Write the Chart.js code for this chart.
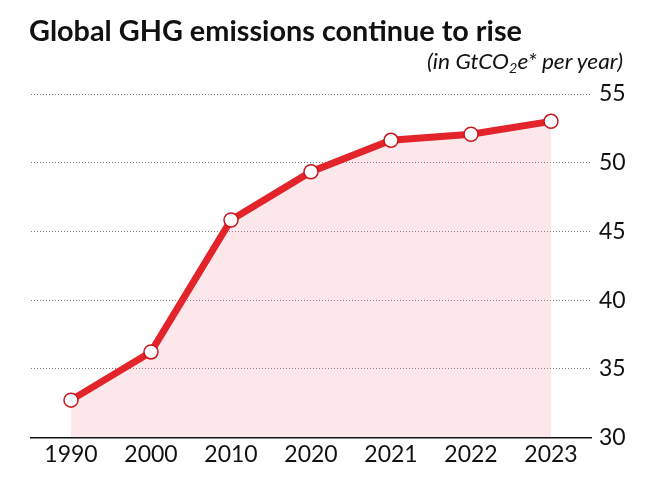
<!DOCTYPE html>
<html>
<head>
<meta charset="utf-8">
<script src="https://cdn.jsdelivr.net/npm/chart.js@4"></script>
<style>
  html, body { margin: 0; padding: 0; background: #fff; }
  #wrap { position: relative; width: 660px; height: 488px; overflow: hidden; }
  #chart { position: absolute; left: 0; top: 0; }
  .txt { position: absolute; white-space: nowrap; color: #111; transform-origin: left top; }
  #title { left: 29px; top: 12px; font: bold 29px 'Lato', sans-serif; }
  #sub { left: 427px; top: 47px; font: italic 22px 'Lato', sans-serif; }
  #sub sub { font-size: 14px; vertical-align: -4px; line-height: 0; }
</style>
</head>
<body>
<div id="wrap">
  <canvas id="chart" width="660" height="488"></canvas>
  <div id="title" class="txt">Global GHG emissions continue to rise</div>
  <div id="sub" class="txt">(in GtCO<sub>2</sub>e* per year)</div>
</div>
<script>
const years = ['1990', '2000', '2010', '2020', '2021', '2022', '2023'];
const emissions = [32.72, 36.23, 45.83, 49.34, 51.63, 52.07, 53.01];
const yMin = 30, yMax = 55, yStep = 5;

function fitWidth(id, target) {
  const el = document.getElementById(id);
  const w = el.getBoundingClientRect().width;
  el.style.transform = 'scaleX(' + (target / w) + ')';
}
fitWidth('title', 493);
fitWidth('sub', 196);

const tickFont = { family: "'Lato', sans-serif", size: 23 };

new Chart(document.getElementById('chart'), {
  type: 'line',
  data: {
    labels: years,
    datasets: [{
      data: emissions,
      borderColor: '#e3242b',
      borderWidth: 7,
      fill: 'start',
      backgroundColor: 'rgba(245,160,170,0.25)',
      pointRadius: 7,
      pointBorderWidth: 1.5,
      pointBorderColor: '#c8161d',
      pointBackgroundColor: '#ffffff',
      tension: 0
    }]
  },
  options: {
    responsive: false,
    animation: false,
    devicePixelRatio: 1,
    layout: { padding: { top: 94, left: 31, right: 0, bottom: 0 } },
    plugins: { legend: { display: false }, tooltip: { enabled: false } },
    scales: {
      x: {
        offset: true,
        grid: { display: false, drawTicks: false },
        border: { display: true, color: '#111', width: 1.5 },
        ticks: { color: '#111', font: tickFont, padding: 3, maxRotation: 0 },
        afterFit(scale) { scale.height = 488 - 94 - 343.5; }
      },
      y: {
        position: 'right',
        min: yMin, max: yMax,
        grid: { color: '#777', lineWidth: 1, drawTicks: false },
        border: { display: false, dash: [1, 2] },
        ticks: { stepSize: yStep, color: '#111', font: tickFont, padding: 8 },
        afterFit(scale) { scale.width = 69; }
      }
    }
  }
});
</script>
</body>
</html>
